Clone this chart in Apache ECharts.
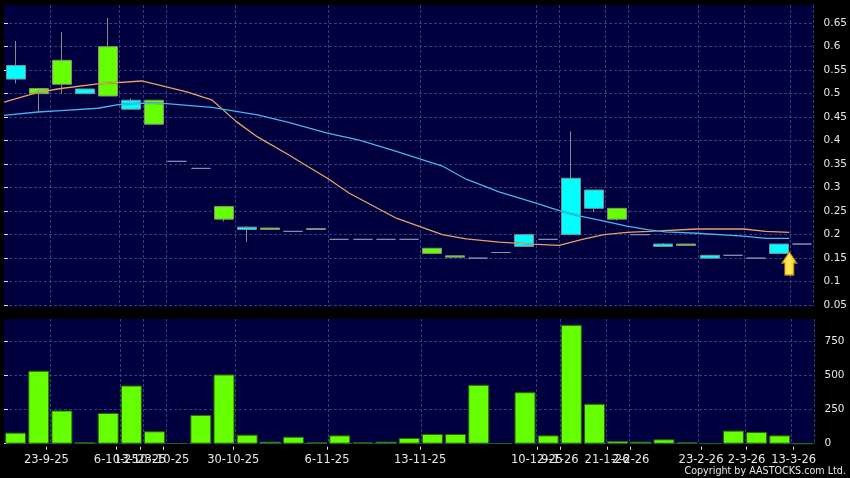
<!DOCTYPE html>
<html><head><meta charset="utf-8">
<style>html,body{margin:0;padding:0;background:#000}#c{width:850px;height:478px}</style>
<script src="https://cdn.jsdelivr.net/npm/echarts@6/dist/echarts.min.js"></script>
</head><body><div id="c"></div>
<script>
const opens  = [.531,.511,.571,.50,.60,.467,.486,.356,.341,.26,.211,.214,.207,.213,.19,.19,.19,.19,.171,.155,.15,.162,.175,.19,.20,.256,.256,.20,.175,.18,.15,.156,.15,.16,.18];
const closes = [.56,.50,.52,.51,.495,.486,.435,.356,.341,.233,.216,.211,.207,.211,.19,.19,.19,.19,.16,.152,.15,.162,.20,.19,.32,.295,.233,.20,.18,.177,.156,.156,.15,.18,.18];
const highs  = [.612,.511,.631,.51,.661,.49,.486,.356,.341,.26,.218,.215,.207,.213,.19,.19,.19,.19,.171,.155,.15,.162,.20,.19,.42,.295,.256,.20,.182,.18,.156,.156,.15,.18,.18];
const lows   = [.522,.46,.50,.50,.495,.467,.435,.356,.341,.228,.185,.211,.207,.211,.19,.19,.19,.19,.16,.152,.15,.162,.175,.19,.20,.248,.23,.20,.175,.177,.15,.156,.15,.16,.18];
const volumes = [81,534,243,10,225,426,91,3,211,507,66,15,51,10,61,10,15,42,71,71,431,3,377,61,870,292,20,15,32,10,2,96,86,61,0];
const categories = volumes.map((_, i) => i);
const gridBands = [2,5,6,7,10,14,18,23,24,26,27,30,32,34];
const tickLabels = ['23-9-25','6-10-25','13-10-25','23-10-25','30-10-25','6-11-25','13-11-25','10-12-25','9-1-26','21-1-26','2-2-26','23-2-26','2-3-26','13-3-26'];
const tickAt = [1.83,4.85,5.88,6.88,9.9,13.95,17.97,23.02,24.0,26.04,27.06,30.1,32.07,34.1];
const priceTicks = [.05,.1,.15,.2,.25,.3,.35,.4,.45,.5,.55,.6,.65];
const volumeTicks = [0,250,500,750];
const maSlow = [[0,.482],[1.47,.503],[2.46,.511],[4.06,.521],[5.96,.527],[7.9,.504],[8.98,.487],[10.06,.44],[10.96,.408],[12.3,.37],[12.9,.352],[13.98,.32],[14.93,.288],[16.96,.235],[18.95,.2],[19.98,.191],[21.4,.184],[22.83,.18],[24,.177],[25,.19],[25.94,.2],[26.93,.205],[27.88,.207],[29.95,.212],[31.98,.212],[32.93,.207],[33.95,.205]];
const maFast = [[0,.454],[1.47,.461],[2.46,.464],[4.06,.469],[5,.477],[5.96,.48],[7.03,.479],[8.98,.471],[10.96,.455],[12.3,.439],[13.98,.416],[15.36,.401],[16.96,.377],[18.95,.346],[19.98,.318],[21.4,.291],[23,.267],[24,.251],[24.86,.24],[25.94,.229],[26.93,.218],[27.88,.21],[28.6,.206],[29.95,.203],[31.98,.197],[32.93,.192],[33.95,.192]];
const arrowMark = [[33.95,.1385]];
const copyright = 'Copyright by AASTOCKS.com Ltd.';

const GRID = '#3a3a80', TXT = '#e6e6e6', FONT = 'DejaVu Sans';
const dashed = {show:true, lineStyle:{color:GRID, type:[3,2], width:1}};
const bandSplit = {show:true, interval:(i)=>gridBands.includes(i), lineStyle:{color:GRID, type:[3,2], width:1}};
const hiddenCat = (g)=>({type:'category', gridIndex:g, data:categories, boundaryGap:true,
  axisLine:{show:false}, axisTick:{show:false}, axisLabel:{show:false}, splitLine:bandSplit});
const yCommon = (g,ticks,min,max,fmt)=>({type:'value', gridIndex:g, position:'right', offset:3, min, max, scale:true,
  axisLine:{show:false}, axisTick:{show:true, length:4, customValues:ticks, lineStyle:{color:TXT}},
  axisLabel:{show:true, customValues:ticks, margin:7, color:TXT, fontFamily:FONT, fontSize:10.5, formatter:fmt,
    padding:[3,0,0,0], verticalAlignMinLabel:'middle', verticalAlignMaxLabel:'middle',
    showMinLabel:true, showMaxLabel:true, hideOverlap:false},
  splitLine:dashed});
const option = {
  animation:false, backgroundColor:'#000',
  title:{text:copyright, right:4, top:466, textStyle:{color:TXT, fontFamily:FONT, fontSize:9.6, fontWeight:'normal'}, padding:0},
  grid:[
    {left:4, width:810.5, top:5, height:301.5, show:true, backgroundColor:'#00003f', borderWidth:0},
    {left:4, width:810.5, top:319, height:124.7, show:true, backgroundColor:'#00003f', borderWidth:0}
  ],
  xAxis:[
    hiddenCat(0), hiddenCat(1),
    {type:'value', gridIndex:0, min:0, max:35, show:false, splitLine:{show:false}},
    {type:'value', gridIndex:1, min:0, max:35, position:'bottom', offset:3,
      axisLine:{show:false}, splitLine:{show:false},
      axisTick:{show:true, length:3, customValues:tickAt, lineStyle:{color:TXT}},
      axisLabel:{show:true, customValues:tickAt, margin:7, color:TXT, fontFamily:FONT, fontSize:11.5, hideOverlap:false,
        formatter:(v)=>{const k=tickAt.indexOf(v);return k>=0?tickLabels[k]:'';}}}
  ],
  yAxis:[
    yCommon(0,priceTicks,.0471,.6887,(v)=>String(+(+v).toFixed(2))),
    yCommon(1,volumeTicks,0,913,(v)=>String(Math.round(v)))
  ],
  series:[
    {type:'candlestick', xAxisIndex:0, yAxisIndex:0, barWidth:19.5,
      data:categories.map(i=>[opens[i],closes[i],lows[i],highs[i]]),
      itemStyle:{color:'#00ffff', color0:'#66ff00', borderColor:'#7f8f90', borderColor0:'#7f8f80', borderColorDoji:'#8c8cb0', borderWidth:1}},
    {type:'line', xAxisIndex:2, yAxisIndex:0, data:maSlow, symbol:'none', smooth:false,
      lineStyle:{color:'#e8a070', width:1.3, shadowColor:'rgba(0,0,0,.6)', shadowBlur:1}},
    {type:'line', xAxisIndex:2, yAxisIndex:0, data:maFast, symbol:'none', smooth:false,
      lineStyle:{color:'#48b4f4', width:1.3, shadowColor:'rgba(0,0,0,.6)', shadowBlur:1}},
    {type:'scatter', xAxisIndex:2, yAxisIndex:0, data:arrowMark, symbolSize:[15,23],
      symbol:'path://M7.5 0 L15 11 L12 11 L12 23 L3 23 L3 11 L0 11 Z',
      itemStyle:{opacity:1, borderColor:'#b8860b', borderWidth:1,
        color:{type:'linear',x:0,y:0,x2:1,y2:0,colorStops:[{offset:0,color:'#ffc820'},{offset:.5,color:'#fff060'},{offset:1,color:'#f5b400'}]}}},
    {type:'bar', xAxisIndex:1, yAxisIndex:1, barWidth:21, data:volumes,
      itemStyle:{color:'#66ff00', borderColor:'#1e6a10', borderWidth:1}}
  ]
};
echarts.init(document.getElementById('c'),null,{renderer:'canvas'}).setOption(option);
</script></body></html>
